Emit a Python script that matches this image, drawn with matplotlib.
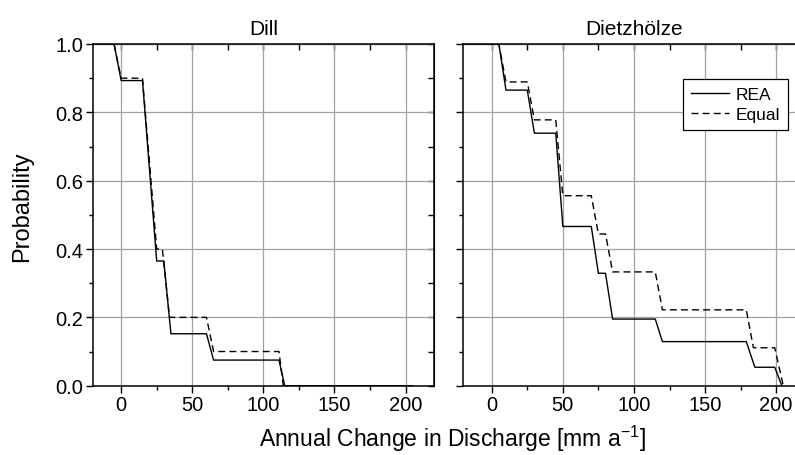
import numpy as np
import matplotlib.pyplot as plt
from matplotlib.ticker import MultipleLocator

plt.rcParams['font.family'] = ['Liberation Sans', 'DejaVu Sans']

# Dill - vertices of the step curves (x: annual change, y: probability)
dill_rea_x = [-20, -5, 0, 15, 25, 30, 35, 60, 65, 111, 115, 205]
dill_rea_y = [1.0, 1.0, 0.893, 0.893, 0.365, 0.365, 0.152, 0.152, 0.075, 0.075, 0.0, 0.0]
dill_eq_x = [-20, -5, 0, 15, 25, 29, 34, 60, 65, 111, 114, 205]
dill_eq_y = [1.0, 1.0, 0.9, 0.9, 0.4, 0.4, 0.2, 0.2, 0.1, 0.1, 0.0, 0.0]

# Dietzhoelze
dietz_rea_x = [-20, 5, 10, 25, 30, 45, 50, 70, 75, 80, 85, 115, 120, 179, 185, 199, 204]
dietz_rea_y = [1.0, 1.0, 0.865, 0.865, 0.739, 0.739, 0.466, 0.466, 0.329, 0.329, 0.195, 0.195,
               0.129, 0.129, 0.054, 0.054, 0.0]
dietz_eq_x = [-20, 5, 10, 25, 30, 45, 50, 70, 75, 80, 85, 115, 120, 179, 184, 199, 205]
dietz_eq_y = [1.0, 1.0, 0.889, 0.889, 0.778, 0.778, 0.556, 0.556, 0.444, 0.444, 0.333, 0.333,
              0.222, 0.222, 0.111, 0.111, 0.0]

titles = ["Dill", "Dietzhölze"]
xticks = [0, 50, 100, 150, 200]
yticks = [0.0, 0.2, 0.4, 0.6, 0.8, 1.0]

fig = plt.figure(figsize=(7.95, 4.56), dpi=100)
W, H = 795, 456
ax1 = fig.add_axes([92.7 / W, 1 - 386.7 / H, 341.3 / W, 341.7 / H])
ax2 = fig.add_axes([463.3 / W, 1 - 386.7 / H, 341.3 / W, 341.7 / H])

data = [(dill_rea_x, dill_rea_y, dill_eq_x, dill_eq_y),
        (dietz_rea_x, dietz_rea_y, dietz_eq_x, dietz_eq_y)]

for i, ax in enumerate([ax1, ax2]):
    rx, ry, ex, ey = data[i]
    ax.plot(rx, ry, color='black', lw=1.0, label='REA', zorder=3)
    ax.plot(ex, ey, color='black', lw=1.0, ls=(0, (5, 3)), label='Equal', zorder=3)
    ax.set_xlim(-20, 220)
    ax.set_ylim(0, 1)
    ax.set_xticks(xticks)
    ax.set_yticks(yticks)
    ax.xaxis.set_minor_locator(MultipleLocator(25))
    ax.yaxis.set_minor_locator(MultipleLocator(0.1))
    ax.grid(True, which='major', color='#a0a0a0', lw=0.9)
    ax.set_axisbelow(True)
    ax.tick_params(which='major', direction='out', length=5, width=1, labelsize=14.5, pad=2)
    ax.tick_params(which='minor', direction='out', length=3, width=1)
    for s in ax.spines.values():
        s.set_linewidth(1.1)
    ax.set_title(titles[i], fontsize=15, pad=7)

    top = ax.secondary_xaxis('top')
    top.set_xticks(xticks)
    top.xaxis.set_minor_locator(MultipleLocator(25))
    top.tick_params(which='both', direction='in', length=4, width=1, labeltop=False)
    right = ax.secondary_yaxis('right')
    right.set_yticks(yticks)
    right.yaxis.set_minor_locator(MultipleLocator(0.1))
    right.tick_params(which='both', direction='in', length=4, width=1, labelright=False)

ax1.set_yticklabels([f"{v:.1f}" for v in yticks])
ax2.tick_params(labelleft=False)

leg = ax2.legend(loc='upper right', bbox_to_anchor=(0.952, 0.8976), borderaxespad=0,
                 fontsize=12.5, handlelength=2.2, handletextpad=0.4, fancybox=False,
                 framealpha=1, edgecolor='black', borderpad=0.45, labelspacing=0.3)
leg.get_frame().set_linewidth(0.9)

fig.text(22 / W, 1 - 207 / H, "Probability", rotation=90, ha='center', va='center',
         fontsize=17)
fig.text(452 / W, 1 - 447 / H, "Annual Change in Discharge [mm a$^{\\mathregular{-1}}$]",
         ha='center', va='baseline', fontsize=16.5)

fig.savefig("out.png", dpi=100)
